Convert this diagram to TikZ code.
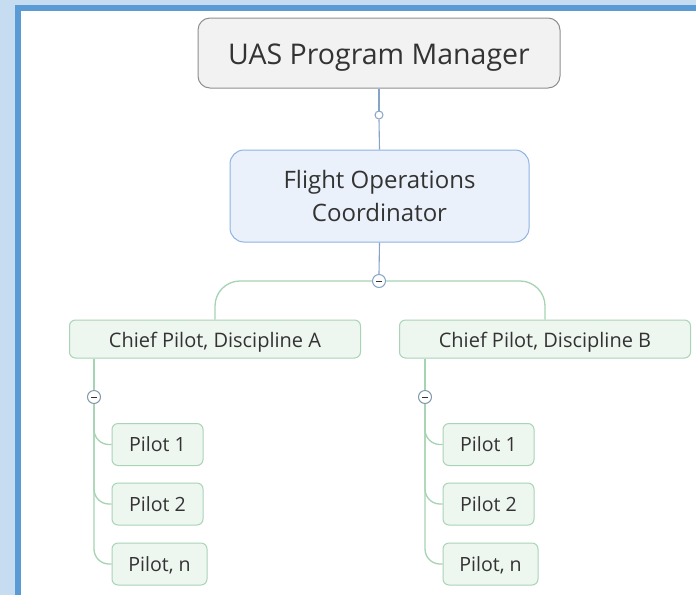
\documentclass[tikz,border=0pt]{standalone}
\usepackage{fontspec}
\setmainfont{Open Sans}
\definecolor{pagebg}{HTML}{C6DCF1}
\definecolor{frameblue}{HTML}{5B9BD5}
\definecolor{topfill}{HTML}{F2F2F2}
\definecolor{topline}{HTML}{8F8F8F}
\definecolor{focfill}{HTML}{EAF1FA}
\definecolor{focline}{HTML}{8DB3E2}
\definecolor{leaffill}{HTML}{EEF6F0}
\definecolor{leafline}{HTML}{A9D4B5}
\definecolor{linkblue}{HTML}{86A4C6}
\definecolor{linkgreen}{HTML}{A6D3B2}
\definecolor{knobline}{HTML}{7E9AA8}
\definecolor{inktext}{HTML}{333333}
\begin{document}
\begin{tikzpicture}[x=1pt,y=-1pt,
  base/.style={rounded corners=#1,align=center,inner sep=0pt,text=inktext},
  % single-line labels: capitals centred (argument = extra height above them)
  capcentre/.style={text height=#1,text depth=0pt},
  topbox/.style={base=12pt,capcentre=23.7pt,draw=topline,fill=topfill,line width=1pt,
    minimum width=362pt,minimum height=70pt,font=\fontsize{28.5}{32}\selectfont},
  coordbox/.style={base=14pt,draw=focline,fill=focfill,line width=1pt,
    minimum width=299pt,minimum height=92pt,font=\fontsize{24}{33}\selectfont},
  chiefbox/.style={base=6pt,capcentre=17.4pt,draw=leafline,fill=leaffill,line width=1pt,
    minimum width=291pt,minimum height=38pt,font=\fontsize{20}{22}\selectfont},
  pilotbox/.style={base=6pt,capcentre=14.6pt,draw=leafline,fill=leaffill,line width=1pt,
    minimum height=42pt,font=\fontsize{19.6}{22}\selectfont},
  bluelink/.style={draw=linkblue,line width=1.1pt},
  greenlink/.style={draw=linkgreen,line width=1.3pt},
  knob/.style={circle,draw=#1,fill=white,line width=1pt,inner sep=0pt,minimum size=13pt},
  dot/.style={circle,draw=linkblue,fill=white,line width=1pt,inner sep=0pt,minimum size=8pt}]

% page background and frame
\useasboundingbox (0,0) rectangle (696,595);
\fill[pagebg] (0,0) rectangle (696,595);
\fill[frameblue] (15,5) rectangle (696,595);
\fill[white] (21,11) rectangle (696,595);

% nodes
\node[topbox] (pm) at (379,53) {UAS Program Manager};
\node[coordbox] (foc) at (379.5,196) {Flight Operations\\Coordinator};
\node[chiefbox] (ca) at (215,339) {Chief Pilot, Discipline A};
\node[chiefbox] (cb) at (545,339) {Chief Pilot, Discipline B};

\node[pilotbox,minimum width=91pt] (a1) at (157.5,444.5) {Pilot 1};
\node[pilotbox,minimum width=91pt] (a2) at (157.5,504) {Pilot 2};
\node[pilotbox,minimum width=95pt] (an) at (159.5,564) {Pilot, n};
\node[pilotbox,minimum width=91pt] (b1) at (488.5,444.5) {Pilot 1};
\node[pilotbox,minimum width=91pt] (b2) at (488.5,504) {Pilot 2};
\node[pilotbox,minimum width=95pt] (bn) at (490.5,564) {Pilot, n};

% collapse knobs
\node[dot] (k0) at (379,115) {};
\node[knob=linkblue] (k1) at (379,281) {};
\node[knob=knobline] (ka) at (94,397) {};
\node[knob=knobline] (kb) at (425,397) {};

% top connectors
\draw[bluelink] (pm.south) -- (k0.north);
\draw[bluelink] (k0.south) -- (foc.north);
\draw[bluelink] (foc.south) -- (k1.north);
\draw[greenlink,rounded corners=25pt] (k1.west) -- (215,281) -- (ca.north);
\draw[greenlink,rounded corners=25pt] (k1.east) -- (545,281) -- (cb.north);

% pilot connectors
\draw[greenlink] (ca.south -| ka) -- (ka.north);
\draw[greenlink] (cb.south -| kb) -- (kb.north);
\foreach \p in {a1,a2,an}
  \draw[greenlink,rounded corners=15pt] (ka.south) -- (ka |- \p.west) -- (\p.west);
\foreach \p in {b1,b2,bn}
  \draw[greenlink,rounded corners=15pt] (kb.south) -- (kb |- \p.west) -- (\p.west);

% minus signs in the knobs
\foreach \k in {k1,ka,kb}
  \draw[inktext,line width=1pt] ([xshift=-3pt]\k.center) -- ([xshift=3pt]\k.center);
\end{tikzpicture}
\end{document}
